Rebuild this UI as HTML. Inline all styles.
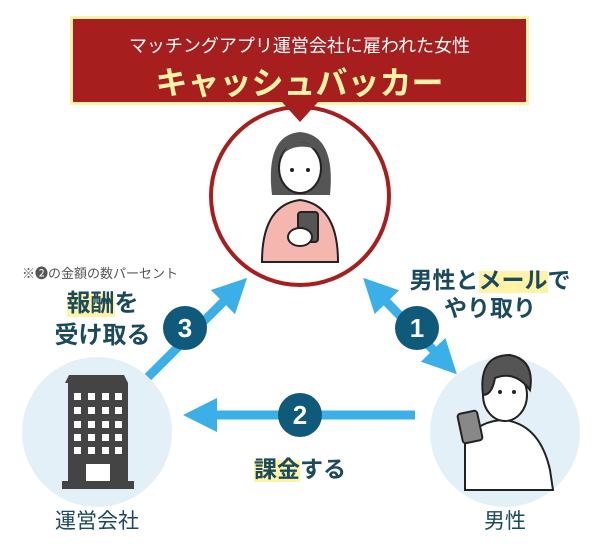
<!DOCTYPE html>
<html><head><meta charset="utf-8"><style>
body{margin:0;width:600px;height:550px;background:#fff;overflow:hidden;font-family:"Liberation Sans","Noto Sans CJK JP",sans-serif}
svg{position:absolute;left:0;top:0}
.t{position:absolute;white-space:nowrap;color:#1b4a5e;font-weight:bold}
.hl{background:linear-gradient(transparent 15%,#fff3a8 15%)}
</style></head><body>
<svg width="600" height="550" viewBox="0 0 600 550">
<defs><marker id="ah" viewBox="0 0 10 10" refX="5" refY="5" markerWidth="3.8" markerHeight="3.8" orient="auto-start-reverse"><path d="M0,0L10,5L0,10z" fill="#3bb0e8"/></marker></defs>
<rect x="70" y="16" width="459" height="89" fill="#fff3a8"/>
<rect x="73" y="19" width="453" height="83" fill="#a61e1e"/>
<circle cx="300" cy="196" r="89" fill="#fff" stroke="#a61e1e" stroke-width="4"/>
<path d="M282,102 L300,122 L318,102z" fill="#a61e1e"/>
<path d="M272,195 Q265,135 300,132 Q336,135 330,195 Z" fill="#555"/>
<ellipse cx="300" cy="168" rx="21" ry="25" fill="#fff" stroke="#222" stroke-width="2"/>
<path d="M279,160 Q290,140 320,150 Q305,140 290,142Z" fill="#555"/>
<path d="M262,262 Q262,205 300,200 Q338,205 338,262 Z" fill="#f5b6b0" stroke="#222" stroke-width="2"/>
<rect x="298" y="212" width="20" height="30" rx="3" fill="#555" stroke="#222" stroke-width="2"/>
<ellipse cx="300" cy="237" rx="12" ry="9" fill="#fff" stroke="#222" stroke-width="2"/>
<circle cx="292" cy="170" r="2" fill="#222"/><circle cx="308" cy="170" r="2" fill="#222"/>
<circle cx="97" cy="432" r="75" fill="#e4f0f8"/>
<path d="M69,375 L124,375 L128,383 L65,383z" fill="#444"/>
<rect x="68" y="383" width="60" height="100" fill="#444"/>
<rect x="62" y="481" width="72" height="8" fill="#444"/>
<rect x="86" y="464" width="24" height="17" fill="#fff"/>
<g fill="#fff">
<rect x="74" y="393" width="7" height="7"/><rect x="88" y="393" width="7" height="7"/><rect x="102" y="393" width="7" height="7"/><rect x="115" y="393" width="7" height="7"/>
<rect x="74" y="407" width="7" height="7"/><rect x="88" y="407" width="7" height="7"/><rect x="102" y="407" width="7" height="7"/><rect x="115" y="407" width="7" height="7"/>
<rect x="74" y="421" width="7" height="7"/><rect x="88" y="421" width="7" height="7"/><rect x="102" y="421" width="7" height="7"/><rect x="115" y="421" width="7" height="7"/>
<rect x="74" y="434" width="7" height="7"/><rect x="88" y="434" width="7" height="7"/><rect x="102" y="434" width="7" height="7"/><rect x="115" y="434" width="7" height="7"/>
<rect x="74" y="447" width="7" height="7"/><rect x="88" y="447" width="7" height="7"/><rect x="102" y="447" width="7" height="7"/><rect x="115" y="447" width="7" height="7"/>
</g>
<circle cx="505" cy="432" r="75" fill="#e4f0f8"/>
<path d="M465,490 L465,440 Q480,420 505,420 Q540,425 550,470 L553,490 Z" fill="#fff" stroke="#222" stroke-width="2"/>
<ellipse cx="505" cy="395" rx="22" ry="26" fill="#fff" stroke="#222" stroke-width="2"/>
<path d="M483,395 Q478,355 510,355 Q535,360 530,390 Q515,370 495,378 Q492,395 483,395Z" fill="#555" stroke="#222" stroke-width="2"/>
<rect x="460" y="412" width="20" height="30" rx="3" transform="rotate(-12 470 427)" fill="#888" stroke="#222" stroke-width="2"/>
<circle cx="500" cy="392" r="2" fill="#222"/><circle cx="514" cy="392" r="2" fill="#222"/>
<line x1="415" y1="415" x2="200" y2="415" stroke="#3bb0e8" stroke-width="9" marker-end="url(#ah)"/>
<line x1="148" y1="377" x2="235" y2="290" stroke="#3bb0e8" stroke-width="9" marker-end="url(#ah)"/>
<line x1="375" y1="290" x2="445" y2="362" stroke="#3bb0e8" stroke-width="9" marker-start="url(#ah)" marker-end="url(#ah)"/>
<g fill="#0f5a7a"><circle cx="300" cy="415" r="22"/><circle cx="185" cy="328" r="22"/><circle cx="417" cy="328" r="22"/></g>
<g fill="#fff" font-size="26" font-weight="bold" text-anchor="middle" font-family="Liberation Sans,sans-serif">
<text x="300" y="424">2</text><text x="185" y="337">3</text><text x="417" y="337">1</text></g>
</svg>
<div class="t" style="left:73px;width:453px;top:32px;text-align:center;color:#fff;font-size:18px;font-weight:normal">マッチングアプリ運営会社に雇われた女性</div>
<div class="t" style="left:73px;width:453px;top:58px;text-align:center;color:#fff3a8;font-size:32px">キャッシュバッカー</div>
<div class="t" style="left:22px;top:263px;font-size:13px;color:#555;font-weight:normal">※❷の金額の数パーセント</div>
<div class="t" style="left:40px;width:125px;top:288px;text-align:center;font-size:24px;line-height:32px"><span class="hl">報酬</span>を<br>受け取る</div>
<div class="t" style="left:400px;width:180px;top:266px;text-align:center;font-size:23px;line-height:28px">男性と<span class="hl">メール</span>で<br>やり取り</div>
<div class="t" style="left:245px;width:110px;top:450px;text-align:center;font-size:23px"><span class="hl">課金</span>する</div>
<div class="t" style="left:37px;width:120px;top:505px;text-align:center;font-size:21px;font-weight:normal">運営会社</div>
<div class="t" style="left:445px;width:120px;top:505px;text-align:center;font-size:21px;font-weight:normal">男性</div>
</body></html>
